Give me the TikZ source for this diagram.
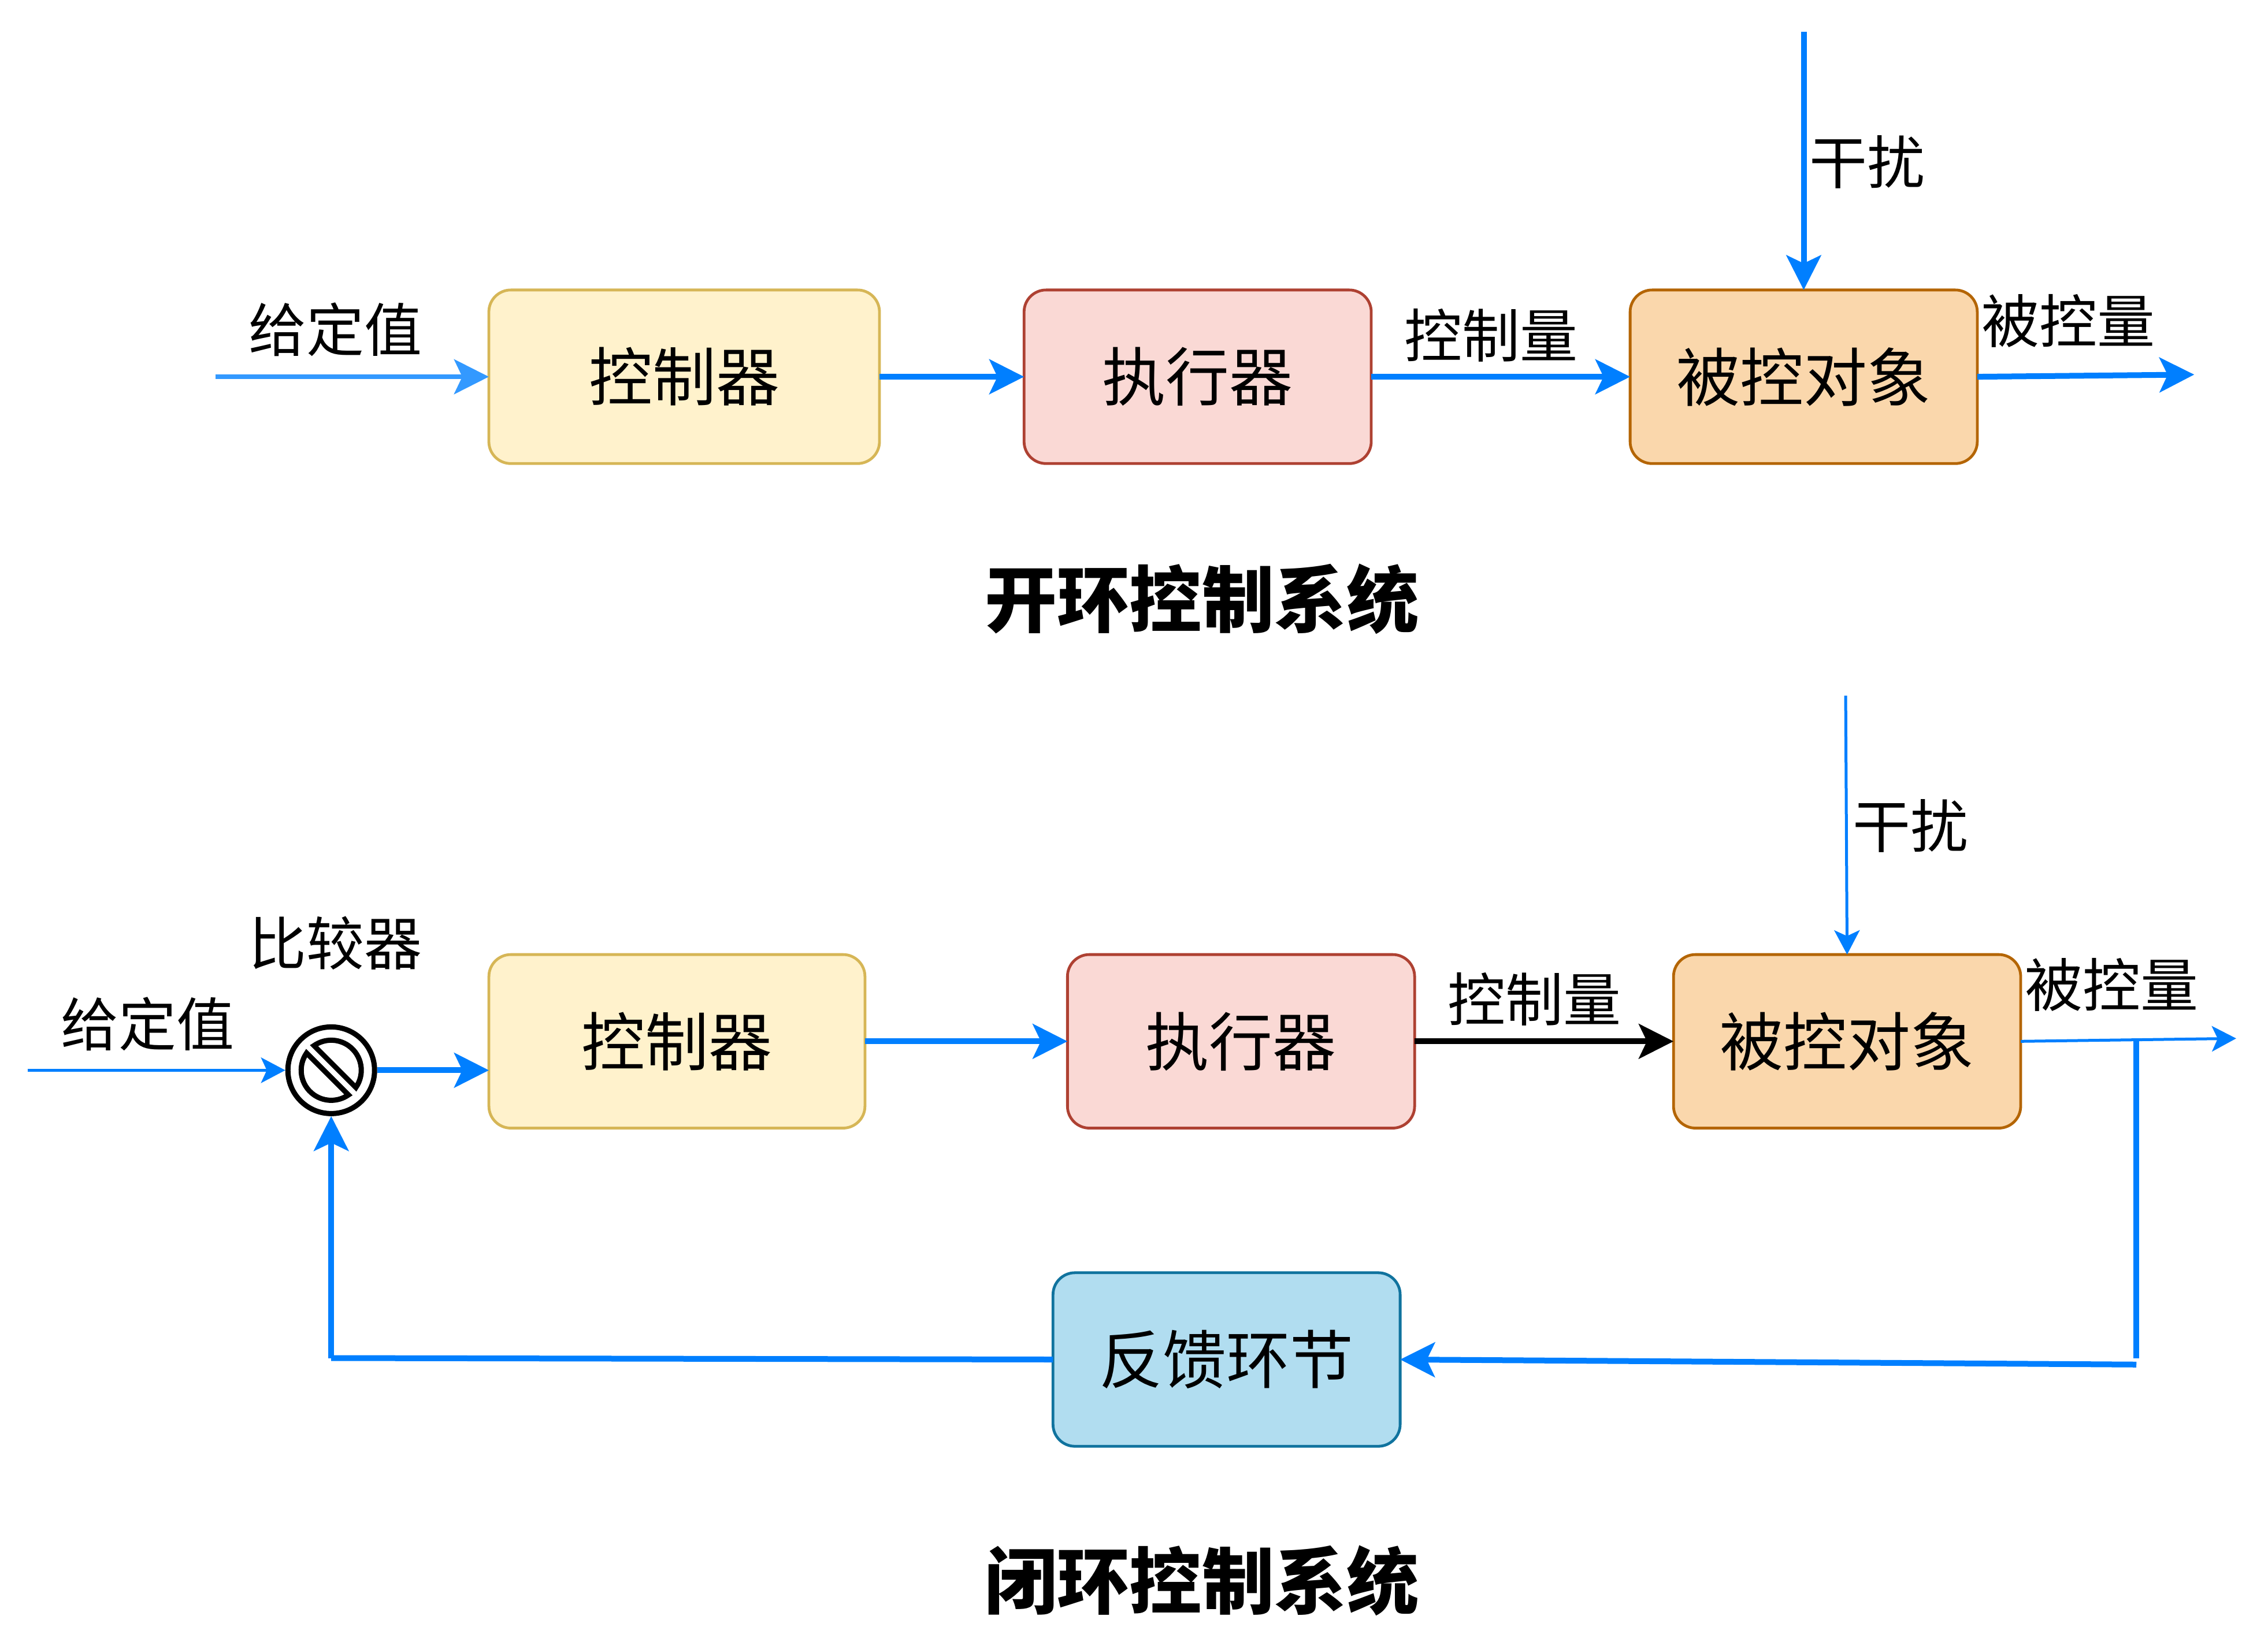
\documentclass[tikz,border=0pt]{standalone}
\usepackage{fontspec}
\setmainfont{Noto Sans CJK SC}
\usetikzlibrary{arrows.meta}
\definecolor{flow}{HTML}{007FFF}
\definecolor{flowlight}{HTML}{3399FF}
\tikzset{
  box/.style={draw,rounded corners=9.5pt,line width=1.2pt,minimum height=75.1pt,inner sep=0pt,outer sep=0pt,font=\fontsize{27.5}{27.5}\selectfont},
  yellowbox/.style={box,fill=yellowfill,draw=yellowline},
  redbox/.style={box,fill=redfill,draw=redline},
  orangebox/.style={box,fill=orangefill,draw=orangeline},
  bluebox/.style={box,fill=bluefill,draw=blueline},
  label/.style={inner sep=0pt,font=\fontsize{25}{25}\selectfont},
  caption/.style={inner sep=0pt,font=\fontsize{31.3}{31.3}\selectfont\bfseries},
  heavy/.style={flow,line width=2.5pt,-{Stealth[length=15pt,width=15pt,inset=3.5pt]}},
  heavyline/.style={flow,line width=2.5pt},
  heavyblack/.style={black,line width=2.5pt,-{Stealth[length=15pt,width=15pt,inset=3.5pt]}},
  light/.style={flowlight,line width=2.2pt,-{Stealth[length=15pt,width=15pt,inset=3.5pt]}},
  fine/.style={flow,line width=1.25pt,-{Stealth[length=10.5pt,width=11pt,inset=2.5pt]}},
  comparer/.style={circle,draw=black,fill=white,line width=2.25pt,minimum size=37.5pt,inner sep=0pt},
}
\definecolor{yellowfill}{HTML}{FFF2CC}\definecolor{yellowline}{HTML}{D6B656}
\definecolor{redfill}{HTML}{FAD9D5}\definecolor{redline}{HTML}{AE4132}
\definecolor{orangefill}{HTML}{FAD7AC}\definecolor{orangeline}{HTML}{B46504}
\definecolor{bluefill}{HTML}{B1DDF0}\definecolor{blueline}{HTML}{10739E}
\begin{document}
\begin{tikzpicture}[x=0.6258pt,y=-0.6258pt]
\useasboundingbox (0,0) rectangle (1568,1124.6);
% open loop
\node[yellowbox,minimum width=169pt] (t1) at (473,260.5) {控制器};
\node[redbox,minimum width=150.2pt] (t2) at (828,260.5) {执行器};
\node[orangebox,minimum width=150.2pt] (t3) at (1247,260.5) {被控对象};
\coordinate (tin) at (149,260.5);
\coordinate (tout) at (1517,259);
\coordinate (tdist) at (1247,22);
\draw[light] (tin) -- (t1.west);
\draw[heavy] (t1.east) -- (t2.west);
\draw[heavy] (t2.east) -- (t3.west);
\draw[heavy] (t3.east) -- (tout);
\draw[heavy] (tdist) -- (t3.north);
\node[label] (tl1) at (232,228) {给定值};
\node[label] (tl2) at (1031,232) {控制量};
\node[label] (tl3) at (1430,222) {被控量};
\node[label] (tl4) at (1291,112) {干扰};
\node[caption] (tc) at (831,414) {开环控制系统};
% closed loop
\node[yellowbox,minimum width=162.7pt] (b1) at (468,720) {控制器};
\node[redbox,minimum width=150.2pt] (b2) at (858,720) {执行器};
\node[orangebox,minimum width=150.2pt] (b3) at (1277,720) {被控对象};
\node[bluebox,minimum width=150.2pt] (b4) at (848,940) {反馈环节};
\node[comparer] (cmp) at (229,740) {};
\begin{scope}[shift={(cmp.center)},line width=2.25pt]
  \draw (-35:13pt) arc[start angle=-35,end angle=125,radius=13pt] -- cycle;
  \draw (145:13pt) arc[start angle=145,end angle=305,radius=13pt] -- cycle;
\end{scope}
\coordinate (bin) at (19,740);
\coordinate (bout) at (1546,718);
\coordinate (bdist) at (1276,481);
\coordinate (tap) at (1477,720);
\coordinate (fbr) at (1477,943.5);
\coordinate (fbl) at (229,939);
\draw[fine] (bin) -- (cmp.west);
\draw[heavy] (cmp.east) -- (cmp.east -| b1.west);
\draw[heavy] (b1.east) -- (b2.west);
\draw[heavyblack] (b2.east) -- (b3.west);
\draw[fine] (b3.east) -- (bout);
\draw[fine] (bdist) -- (b3.north);
\draw[heavyline] (tap) -- (1477,939);
\draw[heavy] (fbr) -- (b4.east);
\draw[heavyline] (b4.west) -- (fbl);
\draw[heavy] (fbl) -- (cmp.south);
\node[label] (bl1) at (102,708) {给定值};
\node[label] (bl2) at (232,652) {比较器};
\node[label] (bl3) at (1061,691) {控制量};
\node[label] (bl4) at (1460,681) {被控量};
\node[label] (bl5) at (1321,571) {干扰};
\node[caption] (bc) at (831,1093) {闭环控制系统};
\end{tikzpicture}
\end{document}
